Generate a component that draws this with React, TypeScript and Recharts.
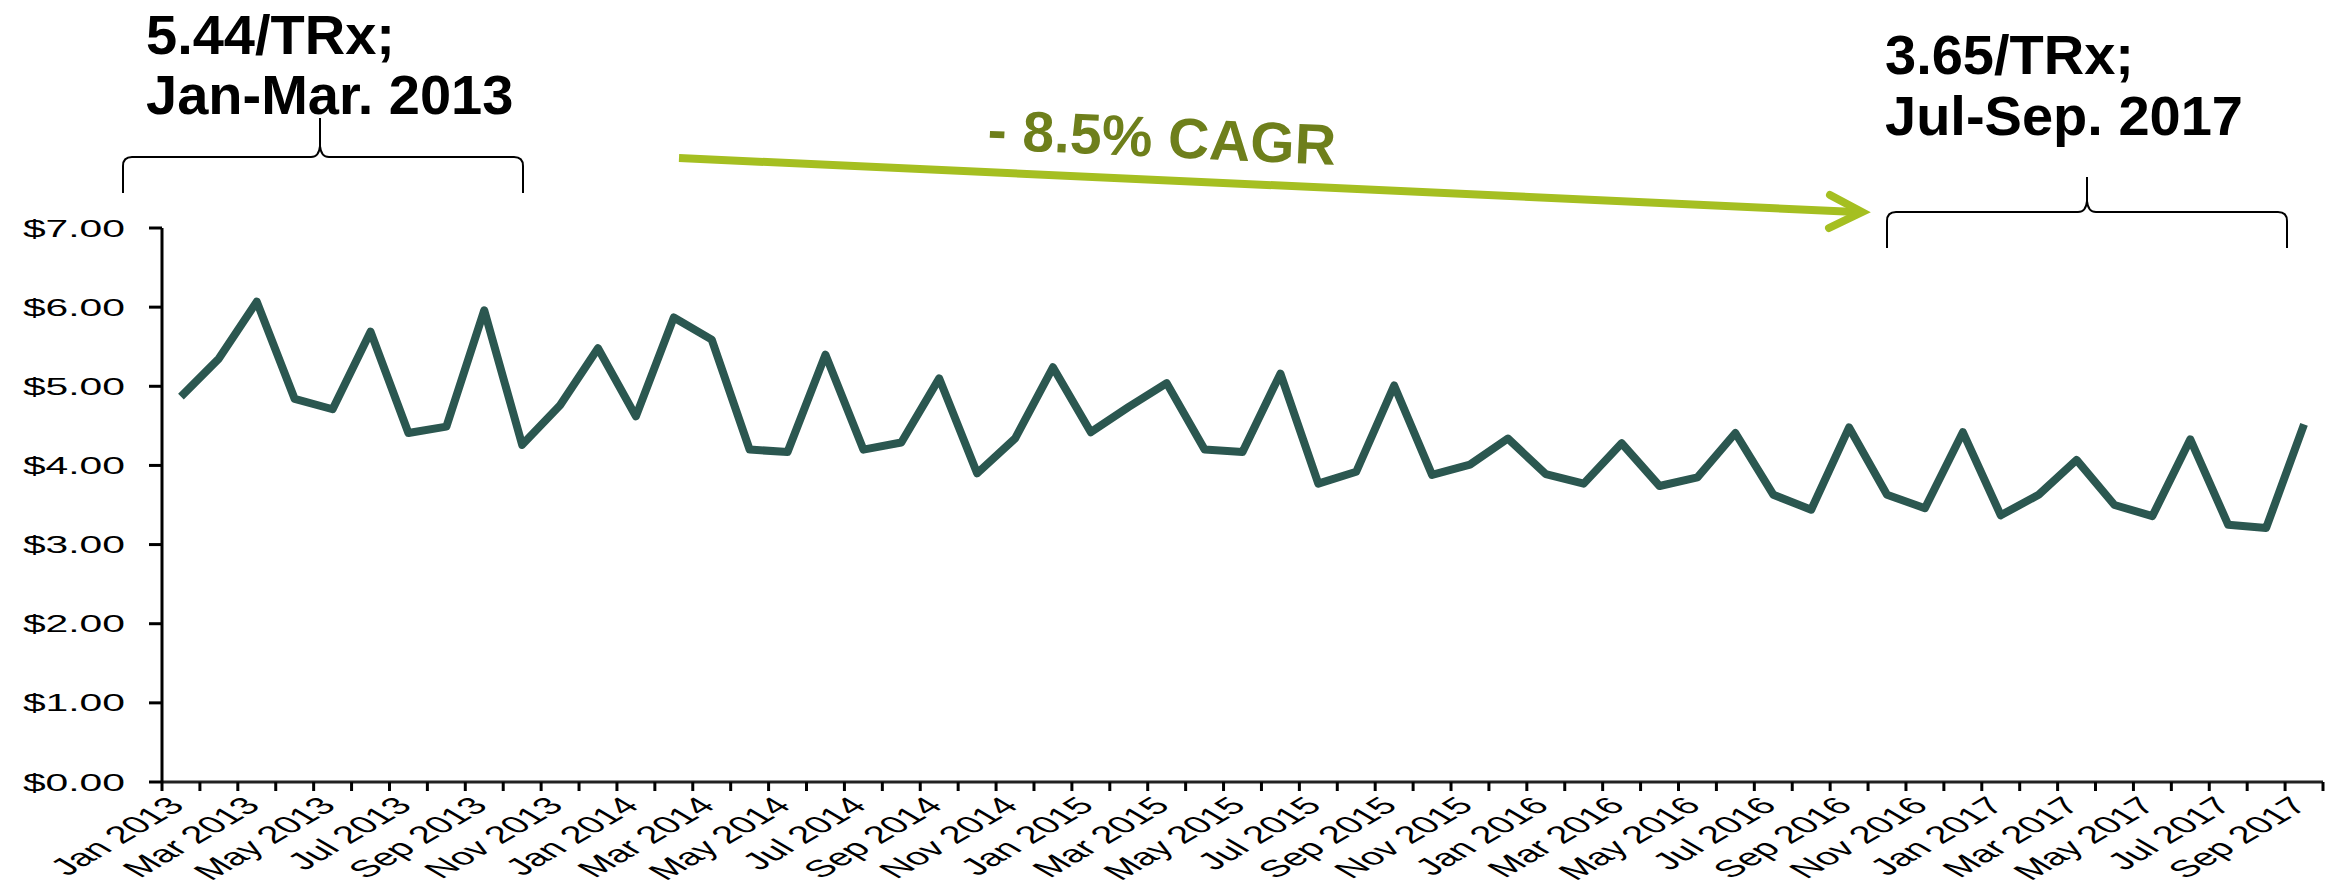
import React from 'react';
import { LineChart, Line, XAxis, YAxis } from 'recharts';

const months = [
  'Jan 2013', 'Feb 2013', 'Mar 2013', 'Apr 2013', 'May 2013', 'Jun 2013', 'Jul 2013', 'Aug 2013', 'Sep 2013', 'Oct 2013', 'Nov 2013', 'Dec 2013',
  'Jan 2014', 'Feb 2014', 'Mar 2014', 'Apr 2014', 'May 2014', 'Jun 2014', 'Jul 2014', 'Aug 2014', 'Sep 2014', 'Oct 2014', 'Nov 2014', 'Dec 2014',
  'Jan 2015', 'Feb 2015', 'Mar 2015', 'Apr 2015', 'May 2015', 'Jun 2015', 'Jul 2015', 'Aug 2015', 'Sep 2015', 'Oct 2015', 'Nov 2015', 'Dec 2015',
  'Jan 2016', 'Feb 2016', 'Mar 2016', 'Apr 2016', 'May 2016', 'Jun 2016', 'Jul 2016', 'Aug 2016', 'Sep 2016', 'Oct 2016', 'Nov 2016', 'Dec 2016',
  'Jan 2017', 'Feb 2017', 'Mar 2017', 'Apr 2017', 'May 2017', 'Jun 2017', 'Jul 2017', 'Aug 2017', 'Sep 2017',
];

const pricePerTRx = [
  4.87, 5.35, 6.07, 4.84, 4.71, 5.69, 4.41, 4.49, 5.96, 4.26, 4.76, 5.48,
  4.62, 5.87, 5.59, 4.20, 4.17, 5.40, 4.20, 4.29, 5.10, 3.90, 4.34, 5.24,
  4.42, 4.74, 5.04, 4.20, 4.17, 5.16, 3.77, 3.92, 5.01, 3.88, 4.01, 4.34,
  3.89, 3.77, 4.28, 3.74, 3.85, 4.41, 3.63, 3.44, 4.48, 3.63, 3.46, 4.42,
  3.37, 3.63, 4.07, 3.50, 3.36, 4.33, 3.25, 3.21, 4.52,
];

const yTicks = [0, 1, 2, 3, 4, 5, 6, 7];

const titleLeft = ['5.44/TRx;', 'Jan-Mar. 2013'];
const titleRight = ['3.65/TRx;', 'Jul-Sep. 2017'];
const cagrLabel = '- 8.5% CAGR';

const data = months.map((m, i) => ({ month: m, price: pricePerTRx[i] }));

const W = 2337;
const H = 886;
const PLOT_LEFT = 162;
const PLOT_RIGHT = 2323;
const PLOT_TOP = 228;
const PLOT_BOTTOM = 782;
const BW = (PLOT_RIGHT - PLOT_LEFT) / months.length;
const FONT = '"Liberation Sans", Arial, Helvetica, sans-serif';
const STRETCH = 1.7;

const YTick = (props: any) => {
  const { x, y, payload } = props;
  return (
    <text
      transform={`translate(${x},${y + 8.6}) scale(${STRETCH},1)`}
      textAnchor="end"
      fontSize={24}
      fontFamily={FONT}
      fill="#000"
    >
      {`$${Number(payload.value).toFixed(2)}`}
    </text>
  );
};

const XTick = (props: any) => {
  const { x, payload, index } = props;
  const i = payload && payload.index != null ? payload.index : index;
  const left = x - BW / 2;
  return (
    <g>
      <line x1={left} x2={left} y1={PLOT_BOTTOM} y2={PLOT_BOTTOM + 9} stroke="#000" strokeWidth={3} />
      {i === months.length - 1 && (
        <line x1={x + BW / 2} x2={x + BW / 2} y1={PLOT_BOTTOM} y2={PLOT_BOTTOM + 9} stroke="#000" strokeWidth={3} />
      )}
      {i % 2 === 0 && (
        <text
          transform={`translate(${x + 5},${PLOT_BOTTOM + 25}) scale(${STRETCH},1) rotate(-45)`}
          textAnchor="end"
          fontSize={24}
          fontFamily={FONT}
          fill="#000"
        >
          {payload.value}
        </text>
      )}
    </g>
  );
};

const Overlay = () => (
  <svg
    width={W}
    height={H}
    style={{ position: 'absolute', left: 0, top: 0, pointerEvents: 'none' }}
  >
    {/* left brace */}
    <path
      d="M123,193 L123,166 Q123,157 132,157 L311,157 Q319,157 320,146 L320,118 M320,118 L320,146 Q321,157 329,157 L514,157 Q523,157 523,166 L523,193"
      fill="none"
      stroke="#000"
      strokeWidth={2}
    />
    {/* right brace */}
    <path
      d="M1887,248 L1887,221 Q1887,212 1896,212 L2078,212 Q2086,212 2087,201 L2087,177 M2087,177 L2087,201 Q2088,212 2096,212 L2278,212 Q2287,212 2287,221 L2287,248"
      fill="none"
      stroke="#000"
      strokeWidth={2}
    />
    <text x={146} y={54} fontSize={56} fontWeight="bold" fontFamily={FONT} fill="#000">{titleLeft[0]}</text>
    <text x={146} y={114} fontSize={56} fontWeight="bold" fontFamily={FONT} fill="#000">{titleLeft[1]}</text>
    <text x={1885} y={74} fontSize={56} fontWeight="bold" fontFamily={FONT} fill="#000">{titleRight[0]}</text>
    <text x={1885} y={135} fontSize={56} fontWeight="bold" fontFamily={FONT} fill="#000">{titleRight[1]}</text>
    {/* arrow */}
    <line x1={679} y1={158} x2={1856} y2={212} stroke="#a5bf21" strokeWidth={8} />
    <polyline
      points="1830,195 1862,212 1829,228"
      fill="none"
      stroke="#a5bf21"
      strokeWidth={8}
      strokeLinecap="round"
      strokeLinejoin="miter"
    />
    <text
      transform="translate(1161,157) rotate(2.6)"
      textAnchor="middle"
      fontSize={57}
      fontWeight="bold"
      fontFamily={FONT}
      fill="#6e7f1b"
    >
      {cagrLabel}
    </text>
  </svg>
);

export default function App() {
  return (
    <div style={{ position: 'absolute', left: 0, top: 0, width: W, height: H, background: '#fff' }}>
      <LineChart
        width={W}
        height={H}
        data={data}
        margin={{ top: PLOT_TOP, right: W - PLOT_RIGHT, bottom: H - PLOT_BOTTOM - 100, left: PLOT_LEFT - 100 }}
      >
        <XAxis
          dataKey="month"
          type="category"
          interval={0}
          height={100}
          tickLine={false}
          axisLine={{ stroke: '#222', strokeWidth: 3 }}
          padding={{ left: BW / 2, right: BW / 2 }}
          tick={<XTick />}
        />
        <YAxis
          width={100}
          domain={[0, 7]}
          ticks={yTicks}
          interval={0}
          tickSize={13}
          tickMargin={24}
          axisLine={{ stroke: '#000', strokeWidth: 3 }}
          tickLine={{ stroke: '#000', strokeWidth: 3 }}
          tick={<YTick />}
        />
        <Line
          type="linear"
          dataKey="price"
          stroke="#2b5750"
          strokeWidth={8}
          strokeLinejoin="round"
          dot={false}
          activeDot={false}
          isAnimationActive={false}
        />
      </LineChart>
      <Overlay />
    </div>
  );
}
